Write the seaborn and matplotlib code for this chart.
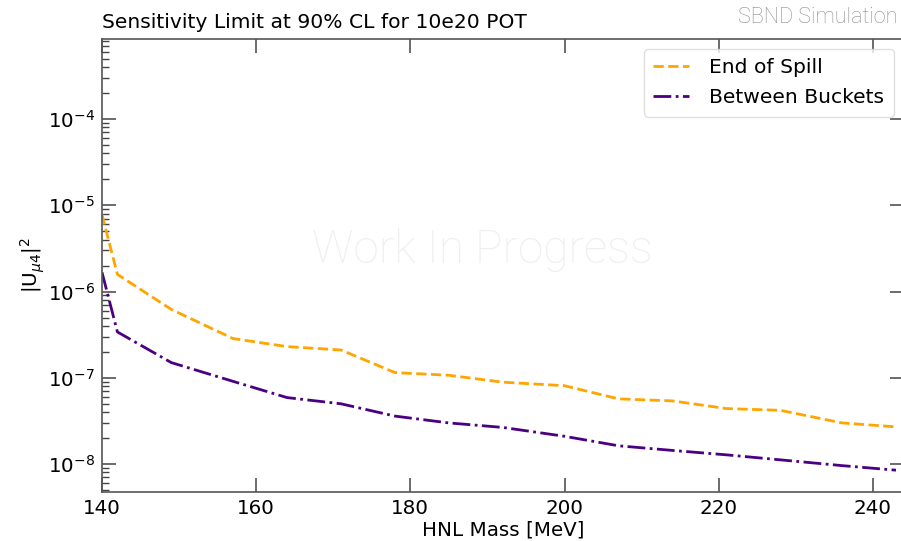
import matplotlib
matplotlib.use("Agg")
import matplotlib.pyplot as plt
import seaborn as sns
import pandas as pd

# HNL mass scan points [MeV]
mass = [140, 142, 149, 157, 164, 171, 178, 185, 192, 200, 207, 214, 221, 228, 236, 243]
# 90% CL sensitivity on |U_mu4|^2 for each trigger window
end_of_spill = [7.8e-6, 1.58e-6, 6.2e-7, 2.85e-7, 2.3e-7, 2.1e-7, 1.15e-7, 1.07e-7,
                8.9e-8, 8.1e-8, 5.7e-8, 5.4e-8, 4.4e-8, 4.2e-8, 3.0e-8, 2.7e-8]
between_buckets = [1.67e-6, 3.4e-7, 1.5e-7, 9.1e-8, 5.9e-8, 5.0e-8, 3.6e-8, 3.0e-8,
                   2.66e-8, 2.1e-8, 1.63e-8, 1.44e-8, 1.28e-8, 1.12e-8, 9.6e-9, 8.5e-9]
series_names = ["End of Spill", "Between Buckets"]
x_ticks = [140, 160, 180, 200, 220, 240]

sns.set_theme(style="white")
plt.rcParams["font.family"] = ["DejaVu Sans"]
plt.rcParams["text.color"] = "black"
plt.rcParams["axes.labelcolor"] = "black"
plt.rcParams["xtick.color"] = "black"
plt.rcParams["ytick.color"] = "black"

df_eos = pd.DataFrame({"mass": mass, "u2": end_of_spill})
df_bb = pd.DataFrame({"mass": mass, "u2": between_buckets})

fig = plt.figure(figsize=(9.01, 5.41), dpi=100)
ax = fig.add_axes([0.1132, 0.0906, 0.8898, 0.8373])

sns.lineplot(data=df_eos, x="mass", y="u2", ax=ax, color="#FFA500",
             linestyle="--", linewidth=2, label=series_names[0])
sns.lineplot(data=df_bb, x="mass", y="u2", ax=ax, color="#4B0082",
             linestyle="-.", linewidth=2, label=series_names[1])

ax.set_yscale("log")
ax.set_xlim(140, 244)
ax.set_ylim(4.75e-9, 8.45e-4)
ax.set_xticks(x_ticks)

for side in ax.spines.values():
    side.set_color("#555555")
    side.set_linewidth(1.2)

ax.tick_params(which="major", direction="in", top=True, right=True, bottom=True,
               left=True, length=10, width=1.1, color="#444444",
               labelsize=14.3, labelcolor="black", pad=5)
ax.tick_params(which="minor", direction="in", left=True, right=False, top=False,
               bottom=False, length=5, width=1.0, color="#444444")
ax.tick_params(axis="x", which="minor", bottom=False, top=False)

ax.set_xlabel("HNL Mass [MeV]", fontsize=14.3, labelpad=2, color="black")
ax.set_ylabel(r"$|\mathrm{U}_{\mu 4}|^2$", fontsize=14.3, labelpad=1, color="black")
ax.set_title("Sensitivity Limit at 90% CL for 10e20 POT", fontsize=14.6,
             loc="left", pad=8, color="black")

leg = ax.legend(loc="upper right", fontsize=14.6, frameon=True, fancybox=True,
                handlelength=1.8, handletextpad=1.0, borderpad=0.45,
                labelspacing=0.55, borderaxespad=0.5)
leg.get_frame().set_edgecolor("#d8d8d8")
leg.get_frame().set_linewidth(1.0)
for t in leg.get_texts():
    t.set_color("black")

fig.text(0.996, 0.967, "SBND Simulation", ha="right", va="center",
         fontsize=15.6, color="#8e8e8e", family="Roboto", fontweight="light")
ax.text(0.475, 0.534, "Work In Progress", transform=ax.transAxes, ha="center",
        va="center", fontsize=33, color="#efefef", family="Roboto",
        fontweight="light", zorder=0)

fig.savefig("out.png", dpi=100)
